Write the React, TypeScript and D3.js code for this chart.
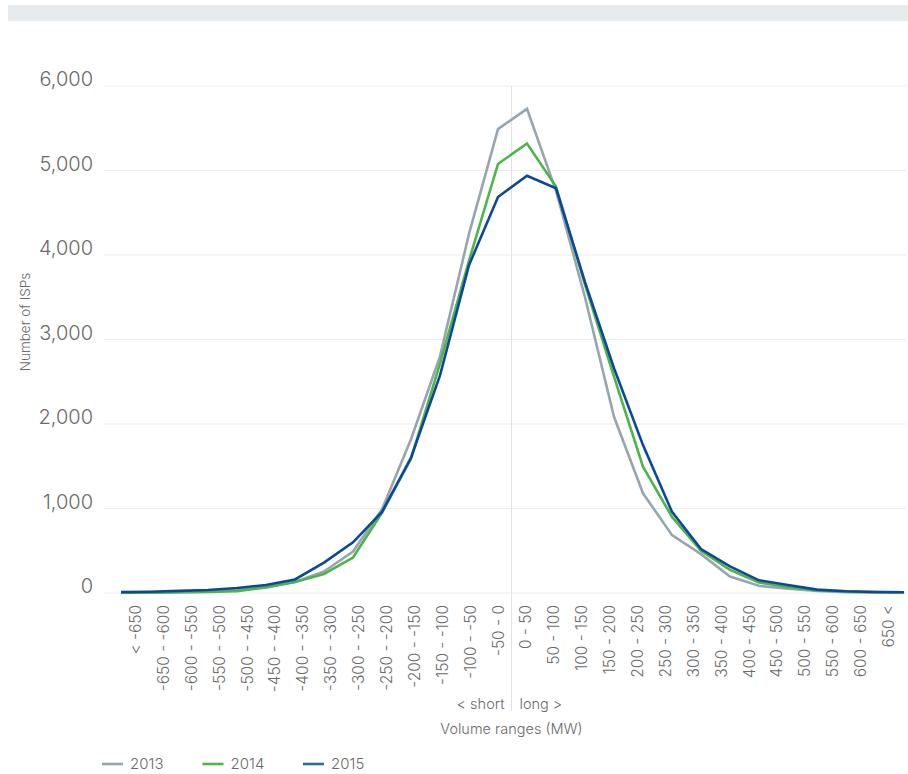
import * as d3 from "d3";

const categories = [
  "< -650", "-650 - -600", "-600 - -550", "-550 - -500", "-500 - -450", "-450 - -400",
  "-400 - -350", "-350 - -300", "-300 - -250", "-250 - -200", "-200 - -150", "-150 - -100",
  "-100 - -50", "-50 - 0", "0 - 50", "50 - 100", "100 - 150", "150 - 200", "200 - 250",
  "250 - 300", "300 - 350", "350 - 400", "400 - 450", "450 - 500", "500 - 550",
  "550 - 600", "600 - 650", "650 <",
];

const values2013 = [
  3, 3, 8, 15, 40, 70, 130, 255, 490, 990, 1820, 2800, 4250, 5490,
  5730, 4760, 3500, 2085, 1180, 685, 460, 195, 85, 50, 25, 8, 5, 5,
];
const values2014 = [
  3, 3, 8, 12, 22, 65, 130, 225, 420, 950, 1590, 2715, 3935, 5077,
  5320, 4810, 3650, 2560, 1495, 900, 500, 275, 125, 70, 30, 20, 12, 8,
];
const values2015 = [
  10, 15, 25, 35, 60, 95, 160, 360, 600, 960, 1600, 2575, 3880, 4686,
  4938, 4790, 3680, 2660, 1750, 960, 520, 315, 150, 95, 40, 20, 12, 8,
];

const yTicks = [0, 1000, 2000, 3000, 4000, 5000, 6000];

const series = [
  { name: "2013", values: values2013, color: "#98a5af", legend: "#98a5af" },
  { name: "2014", values: values2014, color: "#4db548", legend: "#4db548" },
  { name: "2015", values: values2015, color: "#0b489a", legend: "#2d6e91" },
];

const W = 908;
const H = 774;
const font = "Inter, 'Open Sans', 'Liberation Sans', Arial, sans-serif";
const textColor = "#6a6a6a";

export default function App() {
  // lines and their tick labels are spaced slightly differently in the original
  const x = d3.scalePoint<string>().domain(categories).range([121, 904]);
  const xLabel = d3.scalePoint<string>().domain(categories).range([141, 894]);
  const y = d3.scaleLinear().domain([0, 6000]).range([593, 86]);

  const line = d3
    .line<number>()
    .x((_, i) => x(categories[i]) ?? 0)
    .y(d => y(d));

  const fmt = d3.format(",");
  const sep = ((x("-50 - 0") ?? 0) + (x("0 - 50") ?? 0)) / 2 - 1;

  return (
    <svg
      width={W}
      height={H}
      style={{ position: "absolute", left: 0, top: 0, background: "#fff", fontFamily: font }}
    >
      <rect x={8} y={5} width={W - 8} height={16} fill="#e7ebee" />

      {/* grid */}
      {yTicks.map(t => (
        <line key={t} x1={104} x2={906} y1={y(t)} y2={y(t)} stroke="#ebebeb" strokeWidth={1} />
      ))}
      <line x1={sep} x2={sep} y1={y(6000)} y2={711} stroke="#e3e3e3" strokeWidth={1} />

      {/* y axis */}
      {yTicks.map(t => (
        <text
          key={t}
          x={93}
          y={y(t)}
          textAnchor="end"
          fontSize={20}
          fontWeight={300}
          fill={textColor}
        >
          {fmt(t)}
        </text>
      ))}
      <text
        transform={`translate(30,322) rotate(-90)`}
        textAnchor="middle"
        fontSize={13.5}
        fontWeight={300}
        fill={textColor}
      >
        Number of ISPs
      </text>

      {/* x axis labels */}
      {categories.map(c => (
        <text
          key={c}
          transform={`translate(${xLabel(c)},605) rotate(-90)`}
          textAnchor="end"
          fontSize={15.5}
          fontWeight={300}
          fill={textColor}
        >
          {c}
        </text>
      ))}
      <text x={sep - 7} y={709} textAnchor="end" fontSize={14.5} fontWeight={300} fill={textColor}>
        {"< short"}
      </text>
      <text x={sep + 8} y={709} textAnchor="start" fontSize={14.5} fontWeight={300} fill={textColor}>
        {"long >"}
      </text>
      <text x={sep} y={734} textAnchor="middle" fontSize={14.5} fontWeight={300} fill={textColor}>
        Volume ranges (MW)
      </text>

      {/* lines */}
      {series.map(s => (
        <path
          key={s.name}
          d={line(s.values) ?? ""}
          fill="none"
          stroke={s.color}
          strokeWidth={2.6}
          strokeLinejoin="miter"
        />
      ))}

      {/* legend */}
      {series.map((s, i) => (
        <g key={s.name} transform={`translate(${102 + i * 100.5},764)`}>
          <line x1={0} x2={21} y1={0} y2={0} stroke={s.legend} strokeWidth={2.6} />
          <text x={28} y={5} fontSize={15} fontWeight={300} fill={textColor}>
            {s.name}
          </text>
        </g>
      ))}
    </svg>
  );
}
